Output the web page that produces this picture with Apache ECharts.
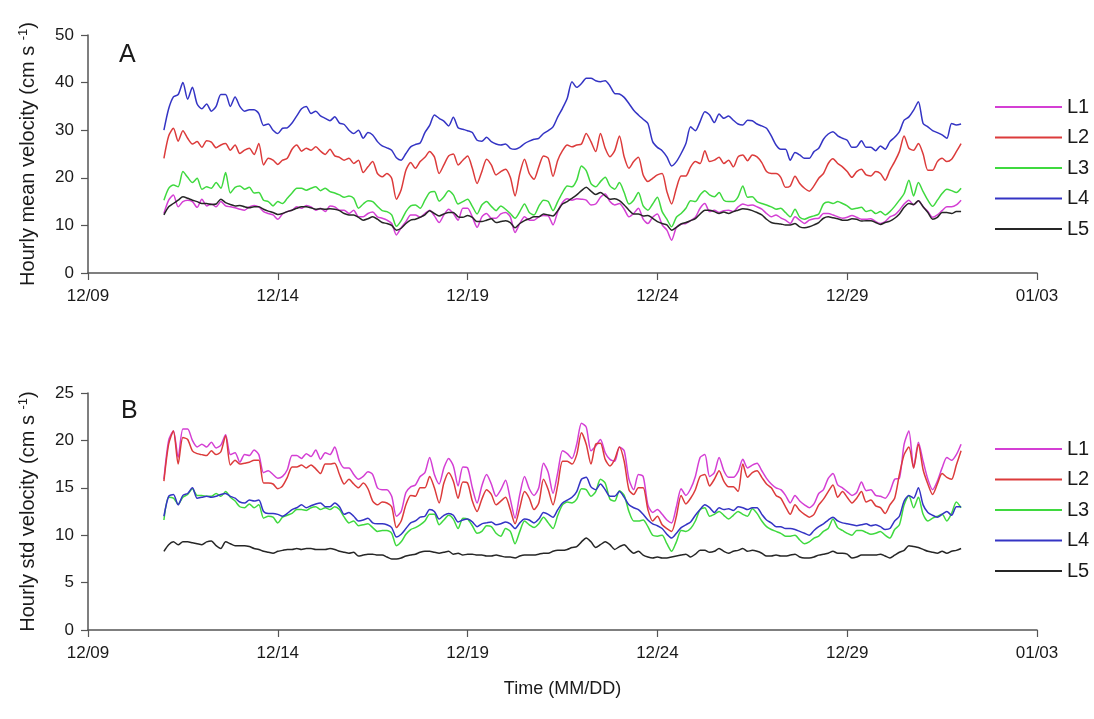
<!DOCTYPE html>
<html>
<head>
<meta charset="utf-8">
<script src="https://cdn.jsdelivr.net/npm/echarts@6/dist/echarts.min.js"></script>
<style>
html,body{margin:0;padding:0;background:#fff;}
#chart{width:1094px;height:719px;}
</style>
</head>
<body>
<div id="chart"></div>
<script>
// Time axis: days after 12/09 00:00; samples every 3 h from 12/11 00:00
const xTickLabels = ['12/09', '12/14', '12/19', '12/24', '12/29', '01/03'];
const startDay = 2;
const stepDay = 0.125;
const seriesNames = ['L1', 'L2', 'L3', 'L4', 'L5'];

// Panel A: hourly mean velocity (cm/s)
const meanL1 = [12.5,15.3,16.4,13.9,15.0,15.3,15.0,13.8,15.5,14.1,
14.5,13.9,15.0,14.1,13.9,13.7,13.4,13.2,13.9,14.2,
13.9,12.9,12.5,12.2,11.3,12.4,12.9,13.2,13.9,13.6,
14.2,13.9,13.2,13.6,12.9,14.1,13.9,13.2,13.2,12.5,
13.2,11.8,11.8,12.5,12.8,11.8,11.5,11.1,10.4,8.0,
9.5,10.8,12.2,12.2,11.7,12.5,13.2,12.0,10.6,12.2,
13.4,12.5,11.1,13.6,13.6,11.8,9.6,11.8,12.5,11.5,
11.5,12.4,12.7,11.8,8.5,10.4,11.8,11.1,11.1,11.8,
12.1,12.0,10.1,12.9,14.8,15.6,15.3,15.6,15.5,15.3,
14.3,14.5,15.9,16.6,15.0,14.3,14.6,13.4,11.8,12.5,
13.6,11.3,10.4,11.7,12.4,10.1,9.0,6.9,9.6,10.3,
10.4,11.0,11.7,13.6,14.6,12.9,13.2,12.7,13.1,13.2,
12.9,13.9,14.5,14.2,14.3,13.9,13.4,12.5,11.8,12.2,
11.6,11.1,10.4,11.8,11.1,10.4,11.1,11.4,11.5,12.5,
12.5,12.2,11.8,11.5,11.7,12.1,11.7,11.3,11.3,11.4,
10.8,10.4,10.8,11.8,12.2,13.2,14.5,15.3,14.3,15.2,
13.9,12.9,11.7,12.2,13.1,13.9,13.9,14.3,15.3];
const meanL2 = [24.1,28.8,30.4,27.7,29.9,28.3,27.1,27.6,26.4,27.8,
27.5,26.3,26.9,27.2,25.8,26.9,25.1,25.8,26.2,24.9,
27.2,22.7,24.1,23.7,22.8,23.7,24.1,26.0,26.9,25.6,
26.2,25.8,26.5,25.6,24.9,26.0,24.6,24.3,23.7,24.1,
23.0,23.7,21.1,22.3,23.4,20.9,20.2,20.9,19.9,15.5,
17.5,21.6,23.2,22.0,23.4,24.3,25.5,24.4,20.9,22.7,
24.6,25.0,22.7,23.7,24.6,22.0,18.8,21.3,23.9,22.7,
20.6,21.3,21.8,20.1,16.2,20.9,23.9,20.9,19.7,22.3,
24.6,24.1,20.3,23.7,25.7,26.9,26.5,26.9,27.1,29.3,
27.6,25.5,29.3,26.2,24.4,25.7,28.8,24.4,22.0,23.4,
24.3,20.6,19.2,19.9,20.6,20.9,17.1,14.5,17.8,20.4,
20.4,22.3,23.4,23.0,25.7,23.4,23.7,24.3,23.0,23.7,
22.3,24.4,24.8,23.6,24.8,24.4,23.2,21.3,20.9,20.9,
20.1,18.0,18.3,20.3,18.8,17.8,17.2,18.3,19.9,20.9,
23.0,24.0,23.0,22.3,21.3,20.1,21.3,21.8,20.6,20.4,
21.3,20.9,19.5,21.6,23.4,25.5,28.8,26.2,25.8,27.2,
25.0,21.6,21.6,23.4,24.1,23.4,23.9,25.5,27.2];
const meanL3 = [15.3,17.8,18.5,18.1,21.3,20.1,19.0,19.9,17.6,18.1,
17.8,19.0,17.8,21.1,16.8,18.0,18.3,17.6,18.0,16.8,
16.9,15.3,15.0,14.1,15.0,14.6,15.7,16.8,17.8,17.8,
17.4,17.8,18.1,17.3,17.8,17.1,16.8,16.4,15.9,16.2,
15.7,13.6,14.5,15.2,15.0,14.0,13.1,12.9,12.2,9.8,
11.0,12.9,14.1,14.3,13.6,15.3,16.9,17.1,15.1,16.0,
17.3,16.4,14.5,15.0,15.5,14.0,12.4,14.3,15.0,14.0,
13.1,14.1,13.4,12.5,11.5,12.9,14.5,12.7,12.2,14.0,
15.3,15.0,13.1,15.0,16.9,18.3,18.1,19.5,22.5,21.5,
18.8,18.1,19.2,20.1,18.3,17.6,19.0,16.9,14.5,15.3,
16.9,14.1,13.2,14.5,15.9,12.9,11.3,9.7,11.7,12.5,
13.6,15.2,15.0,16.4,17.3,16.4,16.0,16.9,15.3,15.0,
15.0,16.0,18.3,15.9,16.0,15.0,14.6,14.3,13.9,13.4,
13.6,12.7,11.8,13.4,11.7,11.3,11.7,12.0,12.4,14.5,
14.9,14.6,15.0,14.6,14.1,13.4,13.6,13.8,12.9,13.2,
12.5,12.9,12.2,12.9,14.0,15.3,16.7,19.5,16.2,19.0,
17.1,15.3,14.0,15.3,16.7,17.6,17.3,16.9,17.8];
const meanL4 = [30.0,34.5,37.0,37.5,40.0,36.5,39.0,35.5,34.5,35.5,
34.0,35.0,37.5,37.5,35.0,37.0,35.0,34.0,34.3,34.3,
33.5,31.0,31.3,30.0,29.3,30.4,30.5,31.5,33.0,34.5,
35.0,33.5,34.0,33.0,32.5,32.0,32.8,31.5,31.2,30.0,
29.3,30.0,28.3,29.5,29.0,27.6,26.7,26.3,25.8,24.2,
23.7,25.1,26.5,27.0,27.3,29.5,31.0,33.2,32.5,31.9,
30.9,32.7,30.5,30.2,29.9,29.5,27.9,27.7,28.5,27.6,
27.1,26.9,27.1,26.2,26.0,26.4,27.2,27.7,28.1,28.3,
29.3,29.9,30.7,32.8,34.6,36.7,40.2,39.0,39.8,40.9,
40.9,40.4,40.2,40.4,39.3,37.7,37.6,36.9,35.6,34.2,
33.2,32.3,31.4,27.6,26.4,25.7,24.4,22.5,23.4,25.1,
27.2,30.7,29.9,31.8,33.9,33.2,31.6,33.4,32.5,33.0,
32.1,31.3,31.1,32.1,32.0,31.3,30.9,30.4,28.8,26.9,
26.0,26.0,23.7,25.3,24.8,24.1,24.1,25.5,26.2,28.1,
29.2,29.7,28.8,28.3,27.9,26.4,26.5,27.8,26.4,26.4,
25.7,26.7,26.0,27.6,28.5,29.7,32.1,32.8,34.2,36.0,
31.4,30.7,29.9,29.5,29.0,28.3,31.4,31.1,31.3];
const meanL5 = [12.2,13.9,14.6,15.3,16.0,15.7,15.3,15.0,14.6,14.6,
14.4,14.5,15.5,14.8,14.4,14.1,14.2,13.9,13.7,13.9,
13.9,13.4,13.0,12.7,12.3,12.5,12.9,13.2,13.6,13.9,
13.9,13.7,13.4,13.5,13.4,13.5,13.4,13.1,12.5,12.2,
12.2,11.7,11.1,11.4,11.8,11.3,10.6,10.4,10.0,9.0,
9.4,10.4,11.1,11.3,11.7,12.2,13.1,12.5,12.0,12.4,
12.7,12.7,11.8,11.7,12.1,11.7,10.8,10.8,11.1,11.4,
10.6,10.8,11.0,10.6,9.5,10.4,11.0,11.4,11.8,11.8,
12.4,12.2,12.0,13.1,14.5,15.0,15.7,16.4,17.3,18.0,
17.2,16.5,16.9,16.2,15.5,15.6,15.2,14.3,13.2,12.4,
12.4,12.0,12.1,11.5,10.8,10.4,10.1,9.0,9.6,10.3,
10.6,11.0,11.4,12.4,13.2,13.2,12.9,12.5,12.8,12.5,
12.9,13.2,13.5,13.4,13.1,12.7,12.2,11.3,10.6,10.4,
10.3,10.1,10.1,10.4,9.7,9.5,9.7,10.1,10.6,11.5,
11.8,11.6,11.4,11.1,11.1,11.4,11.3,10.9,11.0,11.0,
10.6,10.2,10.6,10.9,11.5,12.4,13.8,14.6,14.4,15.2,
13.9,12.7,11.3,11.7,12.7,12.7,12.5,12.9,12.9];

// Panel B: hourly std velocity (cm/s)
const stdL1 = [15.9,20.0,21.0,18.2,21.2,21.2,20.0,19.3,19.6,19.3,
19.8,19.2,19.5,20.6,18.5,18.7,17.7,18.5,18.4,19.0,
18.5,16.6,16.8,16.4,16.0,16.2,16.9,18.4,18.4,18.1,
18.6,18.3,19.0,18.0,18.7,18.5,19.3,17.8,17.1,17.1,
16.4,15.9,16.2,16.7,16.4,15.0,14.8,14.8,14.1,12.0,
12.5,14.5,15.1,15.3,16.2,16.6,18.2,16.4,15.4,17.1,
18.1,17.3,15.2,17.2,17.1,15.0,13.4,15.2,16.4,15.4,
14.1,14.8,15.8,13.8,11.8,14.3,16.2,14.9,14.2,15.0,
17.6,16.6,14.4,16.6,18.9,18.6,18.1,19.6,21.8,21.4,
18.9,19.4,20.1,18.7,18.0,17.8,19.3,18.9,15.9,14.8,
16.4,16.2,13.2,12.4,12.7,12.2,11.6,11.3,13.0,14.9,
14.2,14.9,16.2,18.2,18.5,16.2,16.6,18.2,16.8,16.1,
16.1,16.7,18.0,17.1,17.4,17.6,16.8,16.0,15.4,15.0,
14.8,14.2,13.4,14.2,13.6,13.2,12.9,13.3,14.4,14.8,
16.0,16.5,15.3,15.0,14.6,14.2,14.5,15.6,14.7,14.8,
14.2,14.1,13.9,14.6,15.9,16.0,19.6,21.0,17.1,19.8,
17.8,15.9,14.8,15.7,17.1,18.2,17.9,18.5,19.6];
const stdL2 = [15.7,19.6,21.0,17.5,20.3,20.1,18.9,18.6,18.5,18.4,
18.9,18.5,18.8,20.5,17.4,17.9,17.5,17.6,17.7,17.9,
17.9,15.5,15.5,15.4,14.9,15.2,16.1,17.2,17.2,17.4,
17.1,17.4,17.0,16.5,17.5,17.5,17.6,16.4,15.4,15.9,
15.4,15.0,15.5,14.9,13.6,13.2,13.5,13.4,13.0,10.8,
11.5,13.2,14.2,14.1,15.0,15.0,16.2,15.0,13.4,15.5,
16.6,15.7,13.9,15.6,15.5,13.6,12.5,13.8,14.8,14.3,
13.2,13.6,14.0,12.7,11.2,12.9,14.6,13.9,12.7,13.4,
15.9,14.8,13.2,15.3,17.8,17.8,17.5,18.5,20.8,19.6,
17.5,19.6,19.7,18.0,17.3,18.0,19.3,17.8,14.8,14.3,
15.0,15.0,12.7,11.5,12.0,11.1,10.7,10.4,12.0,14.2,
13.3,13.9,14.8,16.2,16.4,15.2,15.9,16.8,15.7,15.1,
15.1,14.6,17.5,16.1,16.6,16.8,16.1,15.4,15.0,14.2,
13.9,13.0,12.2,13.2,12.6,12.2,11.9,12.2,13.2,13.8,
14.6,15.3,14.0,14.6,14.0,13.4,13.9,14.6,13.5,13.7,
13.1,12.9,12.3,13.2,13.9,16.4,18.5,19.3,17.1,19.6,
16.9,15.4,14.3,15.4,16.5,16.1,15.9,17.4,18.9];
const stdL3 = [11.6,14.0,13.9,13.3,14.0,14.3,14.9,14.2,14.2,14.1,
14.1,14.4,14.1,14.6,14.0,13.6,13.0,12.9,13.3,12.9,
13.2,11.8,12.0,11.9,11.3,11.9,12.1,12.3,12.7,12.7,
12.6,12.9,13.0,12.7,12.9,12.7,13.0,12.7,11.9,11.3,
11.5,11.0,11.1,11.2,10.8,10.4,10.5,10.5,10.2,8.9,
9.3,10.1,10.6,10.8,11.1,11.5,12.2,12.2,11.1,11.6,
12.1,11.7,10.7,11.8,11.7,11.0,10.2,10.4,11.0,10.9,
10.2,9.9,10.7,10.4,9.1,10.4,11.5,11.1,10.8,11.2,
11.9,11.3,10.7,12.1,13.2,13.5,13.4,13.8,14.9,14.8,
14.1,14.6,15.9,15.5,13.8,13.6,14.7,14.2,12.5,11.5,
11.5,11.6,10.9,10.0,9.9,10.0,9.1,8.3,9.3,10.5,
10.4,10.7,11.5,12.7,12.9,12.0,12.2,12.5,12.1,11.7,
12.1,12.5,12.2,12.0,12.8,12.3,11.5,10.9,10.6,10.4,
10.2,9.9,9.9,10.0,9.5,9.1,9.3,9.7,9.9,10.4,
10.7,11.7,10.8,10.5,10.2,10.0,10.5,10.5,10.3,10.1,
10.2,10.4,10.0,9.7,10.6,11.1,13.2,14.2,12.9,14.0,
12.2,11.5,11.8,12.0,12.2,11.5,12.3,13.5,12.9];
const stdL4 = [12.0,14.1,14.3,13.2,14.2,14.4,15.0,13.9,14.0,14.1,
14.0,14.1,14.3,14.4,14.1,13.9,13.5,13.4,13.7,13.6,
13.7,12.5,12.3,12.3,12.2,12.0,12.3,12.7,12.9,13.2,
12.9,13.1,13.3,13.4,13.0,13.0,13.4,13.0,12.2,12.4,
12.0,11.5,11.6,11.8,11.3,11.2,11.2,11.1,10.8,9.8,
10.1,10.7,11.3,11.5,11.9,12.0,12.7,12.5,11.7,12.1,
12.3,12.1,11.4,11.6,11.7,11.4,10.9,11.2,11.3,11.4,
11.1,11.2,11.4,11.2,10.7,11.3,11.7,11.6,11.3,11.7,
12.4,12.2,11.9,12.7,13.4,13.7,14.0,14.6,15.9,16.1,
15.1,14.8,15.4,14.8,14.1,14.1,14.6,14.0,13.2,12.9,
12.7,12.2,11.6,11.2,11.0,10.7,10.1,9.7,10.2,10.8,
11.1,11.4,12.1,12.7,13.2,12.9,12.4,12.9,12.7,12.8,
12.6,13.0,12.9,12.7,12.9,12.9,12.2,11.6,11.3,10.9,
10.9,10.7,10.7,10.6,10.4,10.2,10.0,10.5,10.9,11.2,
11.6,11.9,11.5,11.3,11.2,11.1,11.0,11.1,11.2,11.0,
11.1,10.9,10.6,10.7,11.5,12.0,13.6,14.2,13.9,15.0,
13.2,12.4,12.1,11.9,12.2,12.5,12.1,13.0,13.0];
const stdL5 = [8.3,9.0,9.3,9.0,9.3,9.3,9.2,9.1,9.0,9.3,
9.4,8.9,8.6,9.3,9.1,8.9,8.9,8.9,8.8,8.6,
8.5,8.3,8.2,8.1,8.3,8.4,8.5,8.5,8.6,8.5,
8.6,8.6,8.5,8.5,8.5,8.6,8.5,8.3,8.2,8.1,
8.2,7.8,7.9,8.0,8.0,7.9,7.9,7.7,7.5,7.5,
7.6,7.8,7.9,8.0,8.2,8.3,8.3,8.2,8.1,8.2,
8.3,8.0,8.1,7.9,8.0,8.0,7.9,7.9,7.8,7.8,
7.9,7.8,7.7,7.7,7.6,7.8,7.9,7.9,7.9,8.0,
8.1,8.1,8.3,8.4,8.4,8.5,8.7,8.8,9.3,9.7,
9.3,8.7,9.0,9.3,9.0,8.5,8.8,9.0,8.5,8.1,
8.3,7.9,7.7,7.6,7.7,7.6,7.6,7.7,7.8,7.9,
8.0,7.7,8.0,8.4,8.4,8.2,8.3,8.6,8.3,8.1,
8.3,8.4,8.6,8.3,8.4,8.3,8.1,7.8,7.8,7.9,
7.8,7.8,7.9,8.0,7.7,7.6,7.6,7.7,7.9,8.0,
8.1,8.3,8.1,8.1,8.0,7.6,7.7,7.9,7.9,7.9,
7.9,8.0,7.8,7.6,7.9,8.2,8.4,8.9,8.8,8.7,
8.5,8.3,8.2,8.1,8.3,8.1,8.3,8.4,8.6];

const colors = ['#d43fd4', '#dc3b3b', '#3fd93f', '#3434c4', '#262626'];
const meanData = [meanL1, meanL2, meanL3, meanL4, meanL5];
const stdData = [stdL1, stdL2, stdL3, stdL4, stdL5];

const FONT = "'Liberation Sans', Arial, sans-serif";
const axisColor = '#555';
const textColor = '#1a1a1a';

function toPoints(arr) {
  return arr.map((v, i) => [startDay + i * stepDay, v]);
}

function xAxisCfg(gridIndex, withName) {
  const cfg = {
    type: 'value', gridIndex: gridIndex, min: 0, max: 25, interval: 5,
    axisLine: { show: true, onZero: false, lineStyle: { color: axisColor, width: 1.5 } },
    axisTick: { show: true, length: 7, lineStyle: { color: axisColor, width: 1.2 } },
    axisLabel: {
      margin: 15, fontSize: 17, color: textColor, fontFamily: FONT,
      formatter: function (v) { return xTickLabels[Math.round(v / 5)]; }
    },
    splitLine: { show: false }
  };
  if (withName) {
    cfg.name = 'Time (MM/DD)';
    cfg.nameLocation = 'middle';
    cfg.nameGap = 50;
    cfg.nameTextStyle = { fontSize: 18, color: textColor, fontFamily: FONT };
  }
  return cfg;
}

function yAxisCfg(gridIndex, max, interval, label) {
  return {
    type: 'value', gridIndex: gridIndex, min: 0, max: max, interval: interval,
    axisLine: { show: true, lineStyle: { color: axisColor, width: 1.5 } },
    axisTick: { show: true, length: 7, lineStyle: { color: axisColor, width: 1.2 } },
    axisLabel: { margin: 14, fontSize: 17, color: textColor, fontFamily: FONT },
    splitLine: { show: false },
    name: '{t|' + label + ' (cm s }{s|-1}{t|)}',
    nameLocation: 'middle',
    nameGap: 49,
    nameRotate: 90,
    nameTextStyle: {
      color: textColor,
      rich: {
        t: { fontSize: 20, fontFamily: FONT, color: textColor, lineHeight: 22 },
        s: { fontSize: 13, fontFamily: FONT, color: textColor, verticalAlign: 'top', lineHeight: 13 }
      }
    }
  };
}

function legendCfg(top) {
  return {
    data: seriesNames, orient: 'vertical', left: 990, top: top,
    icon: 'rect', itemWidth: 67, itemHeight: 2, itemGap: 10.5,
    textStyle: { fontSize: 20, lineHeight: 20, color: textColor, fontFamily: FONT },
    selectedMode: false
  };
}

const series = [];
seriesNames.forEach((name, i) => {
  series.push({
    name: name, type: 'line', xAxisIndex: 0, yAxisIndex: 0,
    data: toPoints(meanData[i]), showSymbol: false, symbol: 'none',
    smooth: 0.25, color: colors[i],
    lineStyle: { width: 1.5, color: colors[i] }
  });
});
seriesNames.forEach((name, i) => {
  series.push({
    name: name, type: 'line', xAxisIndex: 1, yAxisIndex: 1,
    data: toPoints(stdData[i]), showSymbol: false, symbol: 'none',
    smooth: 0.25, color: colors[i],
    lineStyle: { width: 1.5, color: colors[i] }
  });
});

const chart = echarts.init(document.getElementById('chart'), null, { renderer: 'canvas' });
chart.setOption({
  animation: false,
  backgroundColor: '#ffffff',
  title: [
    { text: 'A', left: 114, top: 38, textStyle: { fontSize: 25, fontWeight: 'normal', color: textColor, fontFamily: FONT } },
    { text: 'B', left: 116, top: 394, textStyle: { fontSize: 25, fontWeight: 'normal', color: textColor, fontFamily: FONT } }
  ],
  grid: [
    { left: 88, top: 35, width: 949, height: 238 },
    { left: 88, top: 393, width: 949, height: 237 }
  ],
  legend: [legendCfg(92), legendCfg(434)],
  xAxis: [xAxisCfg(0, false), xAxisCfg(1, true)],
  yAxis: [
    yAxisCfg(0, 50, 10, 'Hourly mean velocity'),
    yAxisCfg(1, 25, 5, 'Hourly std velocity')
  ],
  series: series
});
</script>
</body>
</html>
